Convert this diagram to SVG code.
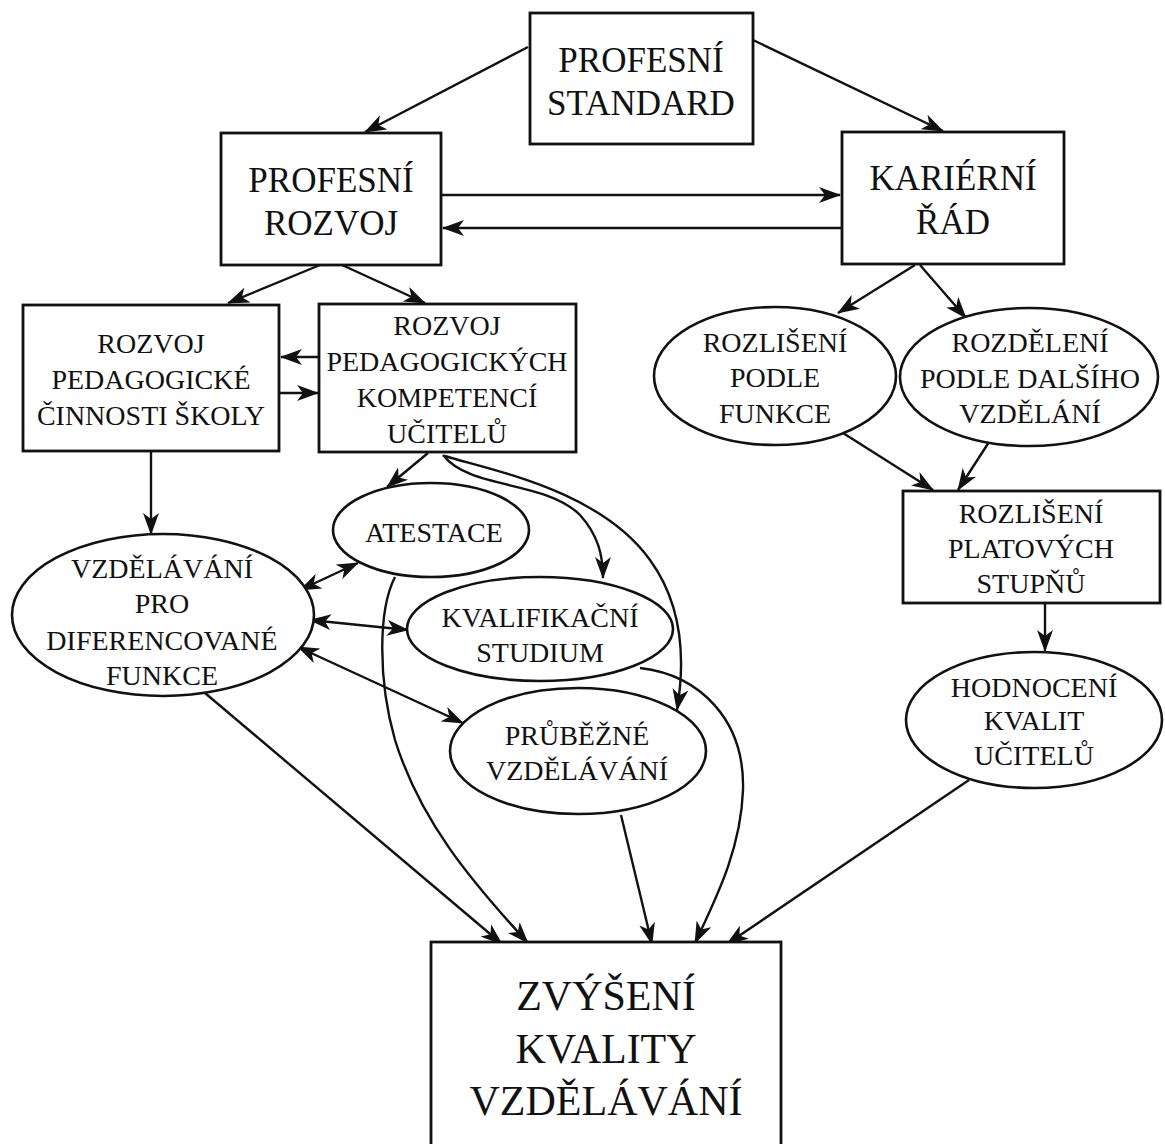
<svg xmlns="http://www.w3.org/2000/svg" width="1165" height="1144" viewBox="0 0 1165 1144">
<style>
  .box { fill: #fff; stroke: #111; stroke-width: 2.8; }
  .ell { fill: #fff; stroke: #111; stroke-width: 2.6; }
  .t { font-family: "Liberation Serif", "Times New Roman", serif; fill: #111; text-anchor: middle; }
  .big { font-size: 35px; }
  .mid { font-size: 28px; }
  .huge { font-size: 42px; }
  .edge { fill: none; stroke: #111; stroke-width: 2.4; marker-end: url(#ah); }
  .both { marker-start: url(#ah); }
</style>
<defs>
  <marker id="ah" viewBox="0 0 22 16" markerWidth="22" markerHeight="16" refX="21" refY="8" orient="auto-start-reverse" markerUnits="userSpaceOnUse">
    <path d="M0,0 L22,8 L0,16 L6,8 z" fill="#111"/>
  </marker>
</defs>
<rect width="1165" height="1144" fill="#fff"/>

<g id="connectors">
  <line class="edge" x1="528" y1="47" x2="365" y2="132"/>
  <line class="edge" x1="753" y1="40" x2="943" y2="131"/>
  <line class="edge" x1="441" y1="195" x2="840" y2="195"/>
  <line class="edge" x1="842" y1="228" x2="443" y2="228"/>
  <line class="edge" x1="320" y1="265" x2="228" y2="303"/>
  <line class="edge" x1="342" y1="265" x2="425" y2="303"/>
  <line class="edge" x1="319" y1="357" x2="281" y2="357"/>
  <line class="edge" x1="280" y1="393" x2="318" y2="393"/>
  <line class="edge" x1="151" y1="451" x2="151" y2="534"/>
  <line class="edge" x1="428" y1="453" x2="387" y2="487"/>
  <path class="edge" d="M443,455 C470,490 545,480 580,515 C598,535 603,555 603,578"/>
  <path class="edge" d="M445,456 C490,470 600,490 650,560 C690,615 682,680 677,710"/>
  <line class="edge both" x1="300" y1="590" x2="358" y2="563"/>
  <line class="edge both" x1="310" y1="620" x2="408" y2="630"/>
  <line class="edge both" x1="298" y1="647" x2="463" y2="723"/>
  <line class="edge" x1="205" y1="693" x2="502" y2="944"/>
  <path class="edge" d="M395,577 C378,610 378,680 395,740 C420,820 470,880 528,943"/>
  <line class="edge" x1="621" y1="815" x2="652" y2="944"/>
  <path class="edge" d="M640,668 C700,675 745,720 743,790 C741,850 715,900 695,943"/>
  <line class="edge" x1="969" y1="780" x2="727" y2="944"/>
  <line class="edge" x1="915" y1="265" x2="838" y2="313"/>
  <line class="edge" x1="920" y1="265" x2="966" y2="318"/>
  <line class="edge" x1="843" y1="433" x2="933" y2="490"/>
  <line class="edge" x1="989" y1="442" x2="958" y2="490"/>
  <line class="edge" x1="1045" y1="603" x2="1045" y2="651"/>
</g>

<g id="profesni-standard">
  <rect class="box" x="530" y="13" width="223" height="131"/>
  <text class="t big" x="641" y="72">PROFESNÍ</text>
  <text class="t big" x="641" y="115">STANDARD</text>
</g>
<g id="profesni-rozvoj">
  <rect class="box" x="221" y="133" width="220" height="132"/>
  <text class="t big" x="331" y="192">PROFESNÍ</text>
  <text class="t big" x="331" y="235">ROZVOJ</text>
</g>
<g id="karierni-rad">
  <rect class="box" x="842" y="132" width="222" height="132"/>
  <text class="t big" x="953" y="190">KARIÉRNÍ</text>
  <text class="t big" x="953" y="234">ŘÁD</text>
</g>
<g id="rozvoj-cinnosti">
  <rect class="box" x="23" y="305" width="256" height="146"/>
  <text class="t mid" x="151" y="353">ROZVOJ</text>
  <text class="t mid" x="151" y="389">PEDAGOGICKÉ</text>
  <text class="t mid" x="151" y="425">ČINNOSTI ŠKOLY</text>
</g>
<g id="rozvoj-kompetenci">
  <rect class="box" x="319" y="304" width="257" height="148"/>
  <text class="t mid" x="447" y="335">ROZVOJ</text>
  <text class="t mid" x="447" y="371">PEDAGOGICKÝCH</text>
  <text class="t mid" x="447" y="407">KOMPETENCÍ</text>
  <text class="t mid" x="447" y="443">UČITELŮ</text>
</g>
<g id="rozliseni-funkce">
  <ellipse class="ell" cx="775" cy="376" rx="121" ry="69"/>
  <text class="t mid" x="775" y="352">ROZLIŠENÍ</text>
  <text class="t mid" x="775" y="387">PODLE</text>
  <text class="t mid" x="775" y="423">FUNKCE</text>
</g>
<g id="rozdeleni-vzdelani">
  <ellipse class="ell" cx="1029" cy="377" rx="129" ry="69"/>
  <text class="t mid" x="1030" y="352">ROZDĚLENÍ</text>
  <text class="t mid" x="1030" y="388">PODLE DALŠÍHO</text>
  <text class="t mid" x="1030" y="423">VZDĚLÁNÍ</text>
</g>
<g id="platove-stupne">
  <rect class="box" x="903" y="491" width="257" height="112"/>
  <text class="t mid" x="1031" y="523">ROZLIŠENÍ</text>
  <text class="t mid" x="1031" y="558">PLATOVÝCH</text>
  <text class="t mid" x="1031" y="593">STUPŇŮ</text>
</g>
<g id="hodnoceni">
  <ellipse class="ell" cx="1034" cy="720" rx="128" ry="68"/>
  <text class="t mid" x="1034" y="697">HODNOCENÍ</text>
  <text class="t mid" x="1034" y="730">KVALIT</text>
  <text class="t mid" x="1034" y="765">UČITELŮ</text>
</g>
<g id="atestace">
  <ellipse class="ell" cx="431" cy="530" rx="98" ry="47"/>
  <text class="t mid" x="434" y="542">ATESTACE</text>
</g>
<g id="vzdelavani-funkce">
  <ellipse class="ell" cx="163" cy="615" rx="151" ry="81"/>
  <text class="t mid" x="162" y="578">VZDĚLÁVÁNÍ</text>
  <text class="t mid" x="162" y="613">PRO</text>
  <text class="t mid" x="162" y="650">DIFERENCOVANÉ</text>
  <text class="t mid" x="162" y="685">FUNKCE</text>
</g>
<g id="kvalifikacni-studium">
  <ellipse class="ell" cx="540" cy="629" rx="133" ry="52"/>
  <text class="t mid" x="540" y="627">KVALIFIKAČNÍ</text>
  <text class="t mid" x="540" y="662">STUDIUM</text>
</g>
<g id="prubezne-vzdelavani">
  <ellipse class="ell" cx="578" cy="751" rx="128" ry="63"/>
  <text class="t mid" x="577" y="745">PRŮBĚŽNÉ</text>
  <text class="t mid" x="577" y="780">VZDĚLÁVÁNÍ</text>
</g>
<g id="zvyseni-kvality">
  <rect class="box" x="431" y="942" width="350" height="230"/>
  <text class="t huge" x="606" y="1010">ZVÝŠENÍ</text>
  <text class="t huge" x="606" y="1063">KVALITY</text>
  <text class="t huge" x="606" y="1115">VZDĚLÁVÁNÍ</text>
</g>
</svg>
